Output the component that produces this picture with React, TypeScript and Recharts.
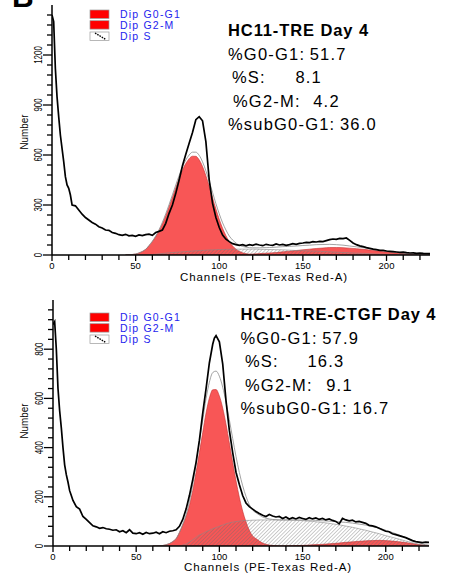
import { ComposedChart, Area, Line, XAxis, YAxis } from "recharts";

const FONT = "'Liberation Sans', Arial, sans-serif";

// axes
const xTicks = [0, 10, 20, 30, 40, 50, 60, 70, 80, 90, 100, 110, 120, 130, 140, 150, 160, 170, 180, 190, 200, 210, 220];
const xLabels = [0, 50, 100, 150, 200];
const yTicks1 = [0, 60, 120, 180, 240, 300, 360, 420, 480, 540, 600, 660, 720, 780, 840, 900, 960, 1020, 1080, 1140, 1200, 1260, 1320, 1380, 1440];
const yLabels1 = [0, 300, 600, 900, 1200];
const yTicks2 = [0, 40, 80, 120, 160, 200, 240, 280, 320, 360, 400, 440, 480, 520, 560, 600, 640, 680, 720, 760, 800, 840, 880, 920, 960];
const yLabels2 = [0, 200, 400, 600, 800];

const phases = ["Dip G0-G1", "Dip G2-M", "Dip S"];
const statLabels = ["%G0-G1:", "%S:", "%G2-M:", "%subG0-G1:"];
const stats1 = ["51.7", "8.1", "4.2", "36.0"];
const stats2 = ["57.9", "16.3", "9.1", "16.7"];

// HC11-TRE, observed histogram [channel, count]
const obs1: [number, number][] = [
  [0, 1440], [1, 1400], [2, 1120], [3, 950], [4, 830], [5, 720], [6, 640], [7, 560], [8, 470], [9, 420], [10, 400], [11, 360], [12, 300],
  [14, 295], [16, 270], [18, 245], [20, 225], [22, 210], [24, 195], [26, 185], [28, 170], [30, 162], [32, 150], [34, 148], [36, 135],
  [38, 130], [40, 122], [42, 118], [44, 124], [46, 115], [48, 118], [50, 112], [52, 120], [54, 116], [56, 122], [58, 125], [60, 118],
  [62, 135], [64, 142], [66, 150], [68, 190], [70, 250], [72, 300], [74, 370], [76, 450], [78, 535], [80, 605], [82, 670], [84, 735],
  [86, 812], [88, 830], [90, 805], [92, 680], [94, 450], [96, 310], [98, 225], [100, 165], [102, 120], [104, 95], [106, 80], [108, 68],
  [110, 62], [112, 58], [114, 62], [116, 55], [118, 62], [120, 58], [122, 65], [124, 60], [126, 56], [128, 64], [130, 60], [132, 58],
  [134, 66], [136, 60], [138, 64], [140, 58], [142, 62], [144, 68], [146, 64], [148, 70], [150, 72], [152, 76], [154, 74], [156, 80],
  [158, 78], [160, 82], [162, 80], [164, 86], [166, 92], [168, 96], [170, 94], [172, 100], [174, 98], [176, 102], [178, 88], [180, 72],
  [182, 62], [184, 55], [186, 50], [188, 44], [190, 40], [192, 35], [194, 32], [196, 28], [198, 28], [200, 24], [202, 22], [204, 20],
  [206, 18], [208, 16], [210, 17], [212, 14], [214, 12], [216, 13], [218, 10], [220, 12], [222, 10], [224, 9], [226, 8],
];

// HC11-TRE, model components
const fitCh1 = [44, 46, 48, 50, 52, 54, 56, 58, 60, 62, 64, 66, 68, 70, 72, 74, 76, 78, 80, 82, 84, 86, 88, 90, 92, 94, 96, 98, 100, 102,
  104, 106, 108, 110, 112, 114, 116, 118, 120, 122, 124, 126, 128, 130,
  134, 138, 142, 146, 150, 154, 158, 162, 166, 170, 174, 178, 182, 186, 190, 194, 198, 202, 206, 210, 214, 218, 222, 226];
const g0g1_1 = [0, 1, 3, 6, 12, 21, 34, 55, 80, 109, 145, 187, 236, 290, 346, 404, 459, 509, 549, 578, 593, 592, 571, 531, 476, 412, 344, 276, 214, 160,
  116, 80, 54, 35, 22, 13, 8, 4, 2, 1, 0, 0, 0, 0,
  0, 0, 0, 0, 0, 0, 0, 0, 0, 0, 0, 0, 0, 0, 0, 0, 0, 0, 0, 0, 0, 0, 0, 0];
const s_1 = [0, 0, 0, 0, 0, 0, 0, 2, 3, 5, 7, 9, 11, 13, 15, 16, 18, 19, 21, 22, 24, 25, 27, 28, 29, 30, 31, 32, 33, 33,
  34, 34, 35, 35, 35, 35, 35, 35, 35, 35, 34, 34, 33, 33,
  32, 31, 29, 27, 26, 24, 23, 21, 19, 17, 15, 13, 11, 10, 8, 6, 5, 4, 3, 2, 1, 0, 0, 0];
const g2m_1 = [0, 0, 0, 0, 0, 0, 0, 0, 0, 0, 0, 0, 0, 0, 0, 0, 0, 0, 0, 0, 0, 0, 0, 0, 0, 0, 0, 0, 0, 0,
  0, 0, 1, 2, 2, 3, 4, 5, 6, 7, 9, 10, 11, 12,
  15, 19, 23, 27, 31, 35, 39, 42, 45, 45, 44, 41, 38, 34, 30, 25, 20, 16, 12, 9, 6, 4, 3, 2];

// HC11-TRE-CTGF, observed histogram [channel, count]
const obs2: [number, number][] = [
  [0, 900], [1, 912], [2, 800], [3, 640], [4, 550], [5, 480], [6, 400], [7, 330], [8, 290], [9, 260], [10, 225], [11, 205], [12, 185],
  [14, 160], [16, 150], [18, 120], [20, 108], [22, 95], [24, 82], [26, 78], [28, 72], [30, 75], [32, 70], [34, 68], [36, 64], [38, 66],
  [40, 58], [42, 62], [44, 54], [46, 66], [48, 52], [50, 50], [52, 54], [54, 48], [56, 55], [58, 50], [60, 52], [62, 56], [64, 50],
  [66, 58], [68, 54], [70, 60], [72, 62], [74, 66], [76, 80], [78, 108], [80, 150], [82, 205], [84, 270], [86, 340], [88, 430],
  [90, 540], [92, 640], [94, 745], [96, 820], [97, 845], [98, 855], [100, 830], [102, 740], [104, 590], [106, 470], [108, 380],
  [110, 300], [112, 250], [114, 205], [116, 175], [118, 160], [120, 150], [122, 140], [124, 132], [126, 125], [128, 120], [130, 128],
  [132, 122], [134, 118], [136, 120], [138, 112], [140, 118], [142, 110], [144, 115], [146, 110], [148, 116], [150, 112], [152, 108],
  [154, 115], [156, 110], [158, 114], [160, 108], [162, 112], [164, 106], [166, 110], [168, 104], [170, 100], [172, 90], [174, 112],
  [176, 106], [178, 102], [180, 105], [182, 98], [184, 100], [186, 96], [188, 92], [190, 84], [192, 82], [194, 78], [196, 72],
  [198, 66], [200, 60], [202, 58], [204, 50], [206, 46], [208, 42], [210, 38], [212, 34], [214, 28], [216, 22], [218, 18], [220, 16],
  [222, 14], [224, 16], [226, 15],
];

// HC11-TRE-CTGF, model components
const fitCh2 = [60, 62, 64, 66, 68, 70, 72, 74, 76, 78, 80, 82, 84, 86, 88, 90, 92, 94, 96, 98, 100, 102, 104, 106, 108, 110, 112, 114,
  116, 118, 120, 122, 124, 126, 128, 130, 132, 134, 136, 138, 140,
  144, 148, 152, 156, 160, 164, 168, 172, 176, 180, 184, 188, 192, 196, 200, 204, 208, 212, 216, 220, 224, 226];
const g0g1_2 = [0, 0, 1, 2, 5, 10, 18, 30, 55, 85, 120, 165, 225, 300, 380, 462, 541, 602, 635, 636, 610, 561, 495, 419, 340, 265, 198, 142,
  98, 64, 41, 30, 20, 12, 7, 4, 2, 1, 0, 0, 0,
  0, 0, 0, 0, 0, 0, 0, 0, 0, 0, 0, 0, 0, 0, 0, 0, 0, 0, 0, 0, 0, 0];
const s_2 = [0, 0, 0, 0, 0, 0, 0, 0, 0, 4, 8, 16, 25, 35, 45, 50, 58, 64, 70, 75, 80, 85, 90, 94, 97, 99, 101, 103,
  104, 104, 105, 105, 106, 106, 106, 106, 106, 106, 106, 106, 106,
  105, 104, 102, 100, 97, 94, 90, 86, 81, 76, 70, 64, 57, 50, 42, 35, 28, 20, 14, 7, 2, 1];
const g2m_2 = [0, 0, 0, 0, 0, 0, 0, 0, 0, 0, 0, 0, 0, 0, 0, 0, 0, 0, 0, 0, 0, 0, 0, 0, 0, 0, 0, 0,
  0, 0, 0, 0, 0, 0, 0, 0, 0, 0, 0, 0, 0,
  1, 2, 3, 5, 6, 8, 10, 12, 15, 17, 19, 21, 22, 23, 22, 20, 17, 14, 10, 6, 3, 2];

const buildFit = (chs: number[], g1: number[], s: number[], g2: number[]) =>
  chs.map((ch, i) => ({ ch, g0g1: g1[i], s: s[i], g2m: g2[i], total: g1[i] + s[i] + g2[i] }));

const RED = "#f85656";

const XTick = (props: any) => {
  const { x, y, payload } = props;
  const major = xLabels.includes(payload.value);
  return (
    <g>
      <line x1={x} x2={x} y1={y} y2={y + (major ? 6 : 5)} stroke="#000" strokeWidth={1.3} />
      {major && (
        <text x={x} y={y + 13.5} textAnchor="middle" fontSize={9.5} fontFamily={FONT} fill="#000">
          {payload.value}
        </text>
      )}
    </g>
  );
};

const makeYTick = (labels: number[], digitW: number) => (props: any) => {
  const { x, y, payload } = props;
  const major = labels.includes(payload.value);
  const s = String(payload.value);
  return (
    <g>
      <line x1={x} x2={x - (major ? 9 : 5)} y1={y} y2={y} stroke="#000" strokeWidth={1.3} />
      {major && (
        <text
          transform={`translate(${x - 10},${y}) rotate(-90)`}
          textAnchor="middle"
          fontSize={10}
          fontFamily={FONT}
          fill="#000"
          textLength={s.length * digitW}
          lengthAdjust="spacingAndGlyphs"
        >
          {s}
        </text>
      )}
    </g>
  );
};

type PanelProps = {
  top: number;
  height: number;
  margin: { top: number; right: number; bottom: number; left: number };
  yAxisWidth: number;
  xAxisHeight: number;
  yMax: number;
  yTicks: number[];
  yLabels: number[];
  digitW: number;
  obs: [number, number][];
  fit: { ch: number; g0g1: number; s: number; g2m: number; total: number }[];
  hatchId: string;
};

function Panel(p: PanelProps) {
  const obsData = p.obs.map(([ch, v]) => ({ ch, v }));
  return (
    <div style={{ position: "absolute", left: 0, top: p.top }}>
      <ComposedChart width={456} height={p.height} margin={p.margin}>
        <defs>
          <pattern id={p.hatchId} width={2.6} height={2.6} patternUnits="userSpaceOnUse" patternTransform="rotate(45)">
            <line x1={0} y1={0} x2={0} y2={2.6} stroke="#6e6e6e" strokeWidth={0.7} />
          </pattern>
        </defs>
        <XAxis
          dataKey="ch"
          type="number"
          domain={[0, 226]}
          allowDataOverflow
          ticks={xTicks}
          interval={0}
          tick={XTick}
          tickLine={false}
          tickSize={0}
          tickMargin={0}
          height={p.xAxisHeight}
          axisLine={{ stroke: "#000", strokeWidth: 1.5 }}
        />
        <YAxis
          type="number"
          domain={[0, p.yMax]}
          allowDataOverflow
          ticks={p.yTicks}
          interval={0}
          tick={makeYTick(p.yLabels, p.digitW)}
          tickLine={false}
          tickSize={0}
          tickMargin={0}
          width={p.yAxisWidth}
          axisLine={{ stroke: "#000", strokeWidth: 1.5 }}
        />
        <Area data={p.fit} dataKey="g0g1" type="monotone" fill={RED} fillOpacity={1} stroke="#c43030" strokeWidth={0.6} dot={false} activeDot={false} isAnimationActive={false} />
        <Area data={p.fit} dataKey="g2m" type="monotone" fill={RED} fillOpacity={1} stroke="#c43030" strokeWidth={0.6} dot={false} activeDot={false} isAnimationActive={false} />
        <Area data={p.fit} dataKey="s" type="monotone" fill={`url(#${p.hatchId})`} fillOpacity={1} stroke="#8a8a8a" strokeWidth={0.6} dot={false} activeDot={false} isAnimationActive={false} />
        <Line data={p.fit} dataKey="total" type="monotone" stroke="#8a8a8a" strokeWidth={0.8} dot={false} activeDot={false} isAnimationActive={false} />
        <Line data={obsData} dataKey="v" type="linear" stroke="#000" strokeWidth={1.7} dot={false} activeDot={false} isAnimationActive={false} />
      </ComposedChart>
    </div>
  );
}

function LegendBlock({ top }: { top: number }) {
  const offs = [0, 10.7, 22];
  return (
    <g>
      {phases.map((name, i) => {
        const y0 = top + offs[i];
        const isS = i === 2;
        return (
          <g key={name}>
            <rect x={90} y={y0} width={19} height={8.4} fill={isS ? "#fff" : "#ff0000"} stroke="#9a9a9a" strokeWidth={0.7} />
            {isS && <line x1={95} y1={y0 + 1} x2={106} y2={y0 + 7.6} stroke="#000" strokeWidth={1.3} strokeDasharray="1.6 1" />}
            <text x={120} y={y0 + 8.3} fontSize={10.5} letterSpacing={1.2} fill="#2424ee">
              {name}
            </text>
          </g>
        );
      })}
    </g>
  );
}

function Stats({ title, vals, x, base, indent, gaps }: { title: string; vals: string[]; x: number; base: number; indent: number[]; gaps: number[] }) {
  return (
    <g fontSize={16.5} fill="#000">
      <text x={x} y={base} fontWeight="bold" letterSpacing={0.9}>
        {title}
      </text>
      {statLabels.map((lab, i) => (
        <text key={lab} x={x + indent[i]} y={base + 24 + i * 23.3} letterSpacing={1.2}>
          {lab}
          <tspan dx={4.5 + gaps[i]}>{vals[i]}</tspan>
        </text>
      ))}
    </g>
  );
}

export default function App() {
  const fit1 = buildFit(fitCh1, g0g1_1, s_1, g2m_1);
  const fit2 = buildFit(fitCh2, g0g1_2, s_2, g2m_2);
  return (
    <div style={{ position: "absolute", left: 0, top: 0, width: 456, height: 573, background: "#fff", overflow: "hidden" }}>
      <Panel
        top={0}
        height={290}
        margin={{ top: 5, right: 26, bottom: 5, left: 0 }}
        yAxisWidth={52}
        xAxisHeight={30}
        yMax={1500}
        yTicks={yTicks1}
        yLabels={yLabels1}
        digitW={4.4}
        obs={obs1}
        fit={fit1}
        hatchId="hatch1"
      />
      <Panel
        top={290}
        height={283}
        margin={{ top: 10, right: 27, bottom: 0, left: 0 }}
        yAxisWidth={53}
        xAxisHeight={27}
        yMax={1000}
        yTicks={yTicks2}
        yLabels={yLabels2}
        digitW={4.4}
        obs={obs2}
        fit={fit2}
        hatchId="hatch2"
      />
      <svg width={456} height={573} style={{ position: "absolute", left: 0, top: 0, pointerEvents: "none" }} fontFamily={FONT}>
        <text x={12} y={7} fontSize={30} fontWeight="bold">B</text>

        <LegendBlock top={10} />
        <LegendBlock top={313} />

        <Stats title="HC11-TRE Day 4" vals={stats1} x={228} base={36} indent={[0, 4, 5, 0]} gaps={[0, 25, 8, 0]} />
        <Stats title="HC11-TRE-CTGF Day 4" vals={stats2} x={240.5} base={320} indent={[0, 4.5, 4.5, 0]} gaps={[0, 24, 9, 0]} />

        <text transform="translate(28,132) rotate(-90)" textAnchor="middle" fontSize={11} textLength={35} lengthAdjust="spacingAndGlyphs">Number</text>
        <text transform="translate(28,421) rotate(-90)" textAnchor="middle" fontSize={11} textLength={35} lengthAdjust="spacingAndGlyphs">Number</text>

        <text x={264} y={281} textAnchor="middle" fontSize={11.5} letterSpacing={0.95}>Channels (PE-Texas Red-A)</text>
        <text x={268} y={571} textAnchor="middle" fontSize={11.5} letterSpacing={0.95}>Channels (PE-Texas Red-A)</text>
      </svg>
    </div>
  );
}
